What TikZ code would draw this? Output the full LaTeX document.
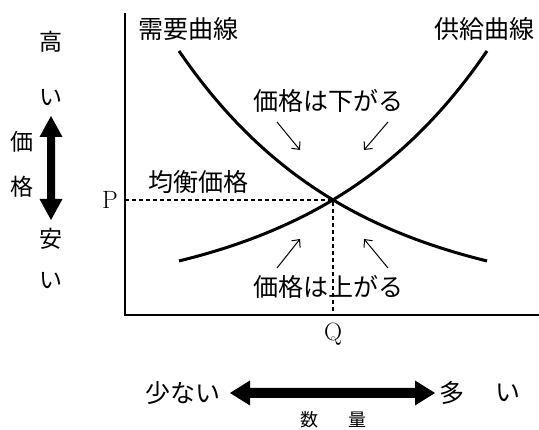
\documentclass[tikz,border=0pt]{standalone}
\usepackage{fontspec}
\newfontfamily\jp{Noto Sans CJK JP}
\usetikzlibrary{arrows.meta}
\begin{document}
\begin{tikzpicture}[x=1pt,y=-1pt,
  lbl/.style={font=\jp\fontsize{25}{25}\selectfont, inner sep=0pt},
  side/.style={font=\jp\fontsize{23}{23}\selectfont, inner sep=0pt},
  small/.style={font=\jp\fontsize{18}{18}\selectfont, inner sep=0pt},
  latin/.style={font=\fontsize{25}{25}\selectfont, inner sep=0pt},
  curve/.style={line width=3pt},
  axis/.style={line width=1.5pt},
  guide/.style={line width=1.2pt, dash pattern=on 4pt off 3pt},
  hint/.style={line width=1pt, -{Straight Barb[length=6pt,width=11pt]}},
  bigarrow/.style={fill=black}]
\useasboundingbox (0,0) rectangle (539,430);
% axes
\coordinate (Ytop) at (125,13);
\coordinate (O) at (125,315);
\coordinate (Xend) at (539,315);
\draw[axis] (Ytop) -- (O) -- (Xend);
% equilibrium guides
\coordinate (E) at (333,200);
\coordinate (Pa) at (125,200);
\coordinate (Qa) at (333,315);
\draw[guide] (Pa) -- (E) -- (Qa);
% curves
\draw[curve] plot[domain=0:308, samples=80, smooth] ({179+\x}, {303.5-252.5*exp(-0.00579*\x)});
\draw[curve] plot[domain=0:308, samples=80, smooth] ({487-\x}, {303.5-252.5*exp(-0.00579*\x)});
% labels
\node[lbl] (demand) at (188,29) {需要曲線};
\node[lbl] (supply) at (484,29) {供給曲線};
\node[lbl] (down) at (328,101) {価格は下がる};
\node[lbl] (up) at (328,287) {価格は上がる};
\node[lbl] (eq) at (198,182) {均衡価格};
\node[latin] (P) at (110,200) {P};
\node[latin] (Q) at (333,334) {Q};
% hint arrows
\coordinate (a1s) at (277,122); \coordinate (a1e) at (300,150);
\coordinate (a2s) at (388,122); \coordinate (a2e) at (364,150);
\coordinate (a3s) at (277,268); \coordinate (a3e) at (300,239);
\coordinate (a4s) at (388,268); \coordinate (a4e) at (364,239);
\draw[hint] (a1s) -- (a1e);
\draw[hint] (a2s) -- (a2e);
\draw[hint] (a3s) -- (a3e);
\draw[hint] (a4s) -- (a4e);
% left side
\node[side] (hi) at (51,42) {高};
\node[side] (hi2) at (51,98) {い};
\node[side] (ka) at (22,142) {価};
\node[side] (kaku) at (22,187) {格};
\node[side] (lo) at (51,239) {安};
\node[side] (lo2) at (51,281) {い};
\fill[bigarrow] (51,116) -- (62.5,137) -- (55,137) -- (55,199) -- (62.5,199) -- (51,220) -- (39.5,199) -- (47,199) -- (47,137) -- (39.5,137) -- cycle;
% bottom
\node[lbl] (few) at (183,393) {少ない};
\node[lbl] (many) at (452,393) {多};
\node[lbl] (many2) at (508,393) {い};
\node[small] (su) at (309,420) {数};
\node[small] (ryo) at (357,420) {量};
\fill[bigarrow] (230,393) -- (250,380.5) -- (250,388) -- (415,388) -- (415,380.5) -- (435,393) -- (415,405.5) -- (415,398) -- (250,398) -- (250,405.5) -- cycle;
\end{tikzpicture}
\end{document}
